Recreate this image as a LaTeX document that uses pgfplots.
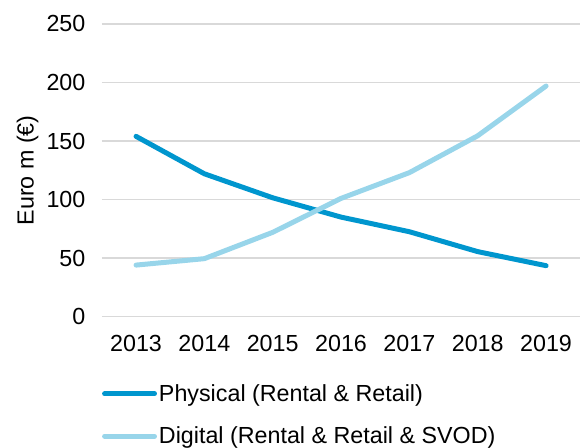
\documentclass[border=0pt]{standalone}
\usepackage{pgfplots}
\pgfplotsset{compat=1.18}
\usepackage{fontspec}
\setmainfont{Liberation Sans}
\definecolor{phys}{HTML}{0096CE}
\definecolor{digi}{HTML}{98D5EA}
\definecolor{gridc}{HTML}{D9D9D9}
\newcommand{\chartfont}{\fontsize{23.4}{27}\selectfont}
\begin{document}
\begin{tikzpicture}[font=\chartfont]
\begin{axis}[
  name=ax,
  scale only axis,
  width=479bp, height=293bp,
  xmin=2012.5, xmax=2019.5,
  ymin=0, ymax=250,
  xtick={2013,...,2019},
  ytick={0,50,...,250},
  xticklabel style={/pgf/number format/1000 sep={}},
  /pgf/number format/assume math mode=true,
  tick style={draw=none},
  axis line style={draw=none},
  ymajorgrids, xmajorgrids=false,
  grid style={gridc, line width=1.5bp},
  yticklabel style={xshift=-13bp, font=\chartfont},
  xticklabel style={yshift=-15bp, font=\chartfont},
  ylabel={Euro m (\texteuro)},
  every axis y label/.style={at={(axis description cs:-0.155,0.5)}, anchor=center, rotate=90, font=\chartfont},
  legend style={at={(axis description cs:0,0)}, anchor=north west, xshift=0bp, yshift=-66bp,
    draw=none, fill=none, inner sep=0pt, row sep=20bp, font=\chartfont},
  legend cell align=left,
  legend image code/.code={\draw[#1, line width=5bp, line cap=round] (0bp,0bp) -- (50bp,0bp);},
]
\addplot[phys, line width=5bp, line cap=round, line join=round] coordinates {
(2013,154) (2014,122) (2015,101.5) (2016,85) (2017,72.5) (2018,55.5) (2019,43.5)};
\addlegendentry{Physical (Rental \& Retail)}
\addplot[digi, line width=5bp, line cap=round, line join=round] coordinates {
(2013,44) (2014,49.5) (2015,72) (2016,101) (2017,123) (2018,154.5) (2019,197)};
\addlegendentry{Digital (Rental \& Retail \& SVOD)}
\end{axis}
\path ([shift={(-102bp,24bp)}]ax.north west) rectangle ([shift={(0bp,-131bp)}]ax.south east);
\end{tikzpicture}
\end{document}
